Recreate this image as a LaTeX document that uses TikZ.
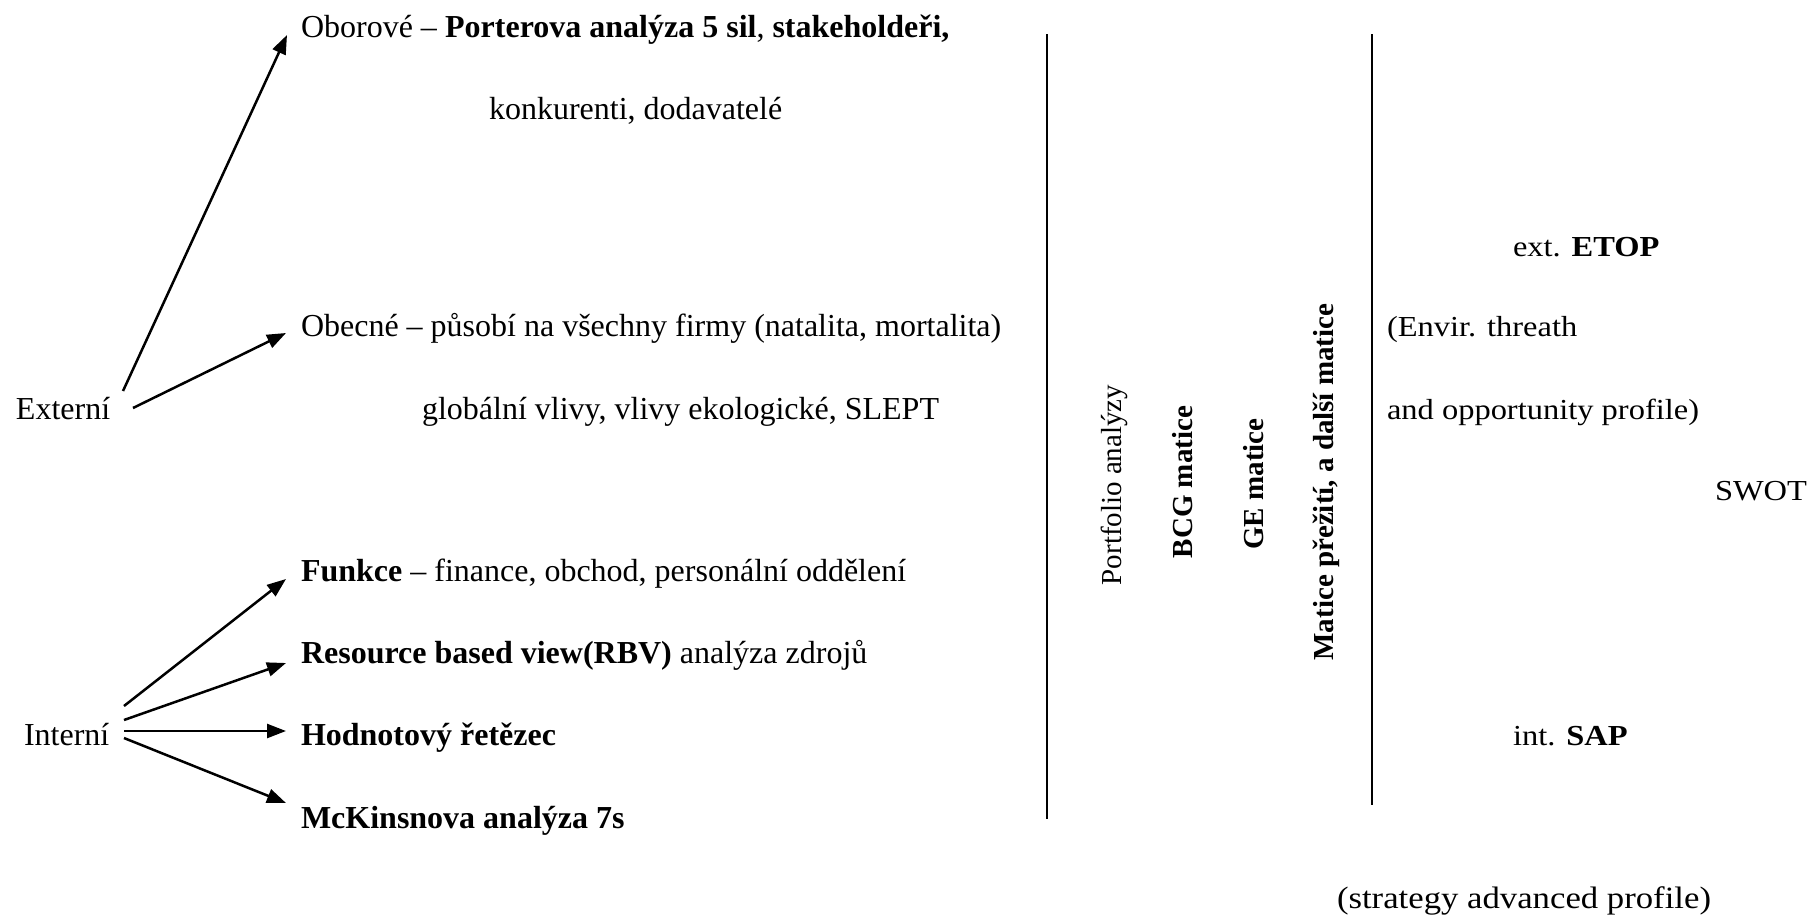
\documentclass[tikz,border=0pt]{standalone}
\usepackage{fontspec}
\setmainfont{Liberation Serif}
\newfontfamily\wideserif[FakeStretch=1.12]{Liberation Serif}
\usetikzlibrary{arrows.meta}
\begin{document}
\begin{tikzpicture}[x=1pt,y=-1pt,
  lefttext/.style={inner sep=0pt,outer sep=0pt,anchor=base west,font=\fontsize{32}{38}\selectfont},
  righttext/.style={inner sep=0pt,outer sep=0pt,anchor=base west,font=\wideserif\fontsize{29}{35}\selectfont},
  vtext/.style={inner sep=0pt,outer sep=0pt,anchor=base,rotate=90,font=\fontsize{29}{35}\selectfont},
  link/.style={line width=2.5pt,-{Triangle[length=19pt,width=14pt]}},
  divider/.style={line width=2.6pt}]
\useasboundingbox (0,0) rectangle (1807,919);

% external and internal roots
\node[lefttext] (ext) at (16,419) {Externí};
\node[lefttext] (int) at (24,745) {Interní};

% external branches
\node[lefttext] (obor) at (301,37) {Oborové – \textbf{Porterova analýza 5 sil}, \textbf{stakeholdeři,}};
\node[lefttext] (konk) at (489,119) {konkurenti, dodavatelé};
\node[lefttext] (obec) at (301,336) {Obecné – působí na všechny firmy (natalita, mortalita)};
\node[lefttext] (glob) at (422,419) {globální vlivy, vlivy ekologické, SLEPT};

% internal branches
\node[lefttext] (funk) at (301,581) {\textbf{Funkce} – finance, obchod, personální oddělení};
\node[lefttext] (rbv) at (301,663) {\textbf{Resource based view(RBV)} analýza zdrojů};
\node[lefttext] (hodn) at (301,745) {\textbf{Hodnotový řetězec}};
\node[lefttext] (mck) at (301,828) {\textbf{McKinsnova analýza 7s}};

% arrow ends
\coordinate (e1) at (123,391);
\coordinate (e2) at (133,408);
\coordinate (i1) at (124,706);
\coordinate (i2) at (124,720);
\coordinate (i3) at (124,731);
\coordinate (i4) at (124,738);
\coordinate (tobor) at (287,35);
\coordinate (tobec) at (286,333);
\coordinate (tfunk) at (286,579);
\coordinate (trbv) at (286,663);
\coordinate (thodn) at (286,731);
\coordinate (tmck) at (286,803);

\draw[link] (e1) -- (tobor);
\draw[link] (e2) -- (tobec);
\draw[link] (i1) -- (tfunk);
\draw[link] (i2) -- (trbv);
\draw[link] (i3) -- (thodn);
\draw[link] (i4) -- (tmck);

% dividers
\coordinate (d1t) at (1047,34);
\coordinate (d1b) at (1047,819);
\coordinate (d2t) at (1372,34);
\coordinate (d2b) at (1372,805);
\draw[divider] (d1t) -- (d1b);
\draw[divider] (d2t) -- (d2b);

% portfolio column
\node[vtext] (port) at (1121,485) {Portfolio analýzy};
\node[vtext] (bcg) at (1192,482) {\textbf{BCG matice}};
\node[vtext] (ge) at (1263,484) {\textbf{GE matice}};
\node[vtext] (mat) at (1333,482) {\textbf{Matice přežití, a další matice}};

% SWOT column
\node[righttext] (etop) at (1513,256) {ext. \textbf{ETOP}};
\node[righttext] (envir) at (1387,336) {(Envir. threath};
\node[righttext] (opp) at (1387,419) {and opportunity profile)};
\node[righttext] (swot) at (1715,500) {SWOT};
\node[righttext] (sap) at (1513,745) {int. \textbf{SAP}};
\node[righttext,font=\wideserif\fontsize{31}{37}\selectfont] (strat) at (1337,908) {(strategy advanced profile)};
\end{tikzpicture}
\end{document}
